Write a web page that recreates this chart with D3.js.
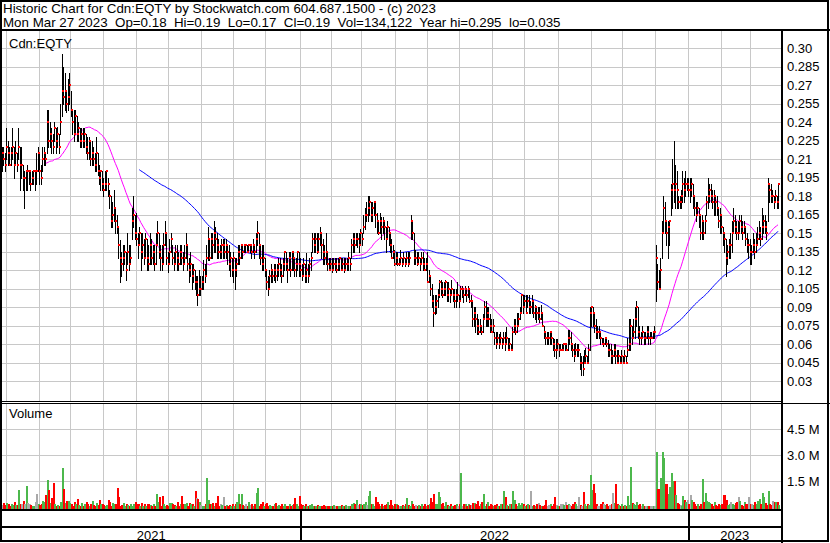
<!DOCTYPE html>
<html><head><meta charset="utf-8">
<script src="https://cdn.jsdelivr.net/npm/d3@7"></script>
<style>
body{margin:0;background:#fff}
svg{display:block}
text{font-family:"Liberation Sans",Arial,sans-serif;font-size:13px;fill:#000}
</style></head>
<body><svg id="chart" width="830" height="543"></svg>
<script>
// ---- data (prices in cents, volumes in thousands of shares), one bar per weekday from 2021-03-29
const closeCents = [
21.5,21,20.5,22,21.5,20.5,21.5,22,20.5,21.5,
20.5,22,20.5,20.5,19.5,19.5,20,20,20,19,
19.5,20,20,20,21.5,20,19.5,21,21.5,21,
24,22.5,23,22.5,22,23.5,22.5,23,22,24,
26.5,26,26.5,25.5,26,27,25,24,23,24.5,
23,23.5,22.5,23,22.5,23,22,21.5,22.5,21,
21.5,21,20.5,21.5,20,19.5,20,19,18.5,19,
20,19,18,16,16.5,17,16,15.5,14,13,
12.5,13,13.5,12,13.5,12.5,13,16,16.5,15,
14.5,14,15,13.5,14,13,14.5,13,12.5,14,
13,13.5,12.5,14,15,13.5,13,12.5,14,15,
13,12.5,13.5,14.5,13,12.5,13.5,13,12.5,13.5,
13,12.5,13,14,12.5,12,12.5,11.5,12,11,
11,10,10.5,10.5,11,12,11.5,13,14.5,13,
14.5,14,15,14.5,14,13.5,13.5,14,14,13.5,
14,13.5,12.5,13,12,13,12,12.5,13.5,13,
14,13.5,14,14,13.5,14,14,13.5,14,13.5,
14.5,15,14,13,12.5,13,12,11,10.5,11.5,
12,11.5,12,11.5,12,12.5,12,11.5,12.5,13.5,
12.5,12,13,12,13.5,13,12,12.5,13.5,12.5,
12,11.5,12.5,11.5,12,11.5,12.5,13,14.5,14,
14.5,13.5,14.5,15,14,13.5,13,13.5,12.5,12,
12.5,12,12.5,12.5,12,12.5,13,12,12.5,12,
12.5,12.5,13,12.5,14,14.5,14,14.5,14.5,14,
15,14.5,15.5,16.5,16.5,17,17.5,16.5,17,17.5,
16.5,16,15,16,15.5,16,15.5,14.5,15.5,15,
14,13,13.5,12.5,13,12.5,12.5,13,12.5,13,
12.5,13,12.5,13,16,15,13,13,12.5,13,
12.5,13,12.5,12,12.5,11,11.5,10.5,9.5,8.5,
9,9.5,10,11,10.5,10,10.5,11,10,10.5,
10,10.5,10,9.5,10,10,9.5,10.5,10.5,10,
10.5,10,10.5,9.5,9.5,8,8.5,8,7.5,7,
7.5,7,8,9,8,8.5,8,7.5,7,7.5,
6.5,6,6.5,6,6.5,6,6.5,6,6.5,5.5,
6,5.5,7,7.5,7,7.5,8,8.5,10,9,
9.5,8.5,9.5,9,9,9.5,8.5,9,8.5,8.5,
8,8.5,7.5,7,6.5,6.5,6.5,7,6.5,6,
5.5,5.5,6,5.5,5.5,5.5,6,6,5.5,6.5,
6.5,6,5.5,5,5.5,5.5,5.5,4.5,4.5,4,
4.5,5,4.5,5.5,8.5,9,8.5,7.5,7,7,
7,6.5,6,6,6.5,6,5.5,5.5,5,5,
5.5,5,4.5,5,4.5,5,4.5,5,4.5,5.5,
6,7.5,6.5,7,8,9,7,6.5,6.5,7,
6.5,6.5,7,6.5,6.5,6.5,7,7,13,11,
10.5,12,15,17,16,15,15.5,16,18.5,19,
18.5,19,18.5,17.5,17.5,18,19,18.5,19,19,
18.5,18.5,19,18,17,16.5,17,16.5,15,16,
15,16,17.5,18,18.5,18,17.5,18,17.5,17,
16,16.5,15.5,15,14.5,13,13.5,14,14,15,
16,15.5,15,15,16,15.5,15,15.5,14.5,14,
14,13.5,13.5,14,13.5,14,14.5,15,14.5,15.5,
16,15.5,15,19,18.5,18,18,17.5,18,17.5,19
];
const highCents = [
22,22,21.5,23.5,22.5,22,22,23.5,22,22.5,
21.5,23.5,22,22,20.5,20,20,20.5,20,20,
20,20,20,21.5,22,21.5,20.5,22,22,21.5,
25,25,24,23.5,23,24,23.5,23.6,23,25.5,
29.5,28.5,28,26.5,27.5,28,26.5,25,25,25,
24.5,24,23.5,23.5,23.5,23.5,23,22.8,22.8,22.5,
22.5,22,21.5,22.8,21.5,20.5,20,20,19.5,20,
20,19.5,18.5,18,17.5,18.5,17,16.5,15.5,14.4,
13.5,14,14,13.5,15,14,14,17,18,16.5,
16.6,15,15.5,15,15,14.5,15,14.5,14,15,
14.5,14,14,15,16,15,14,14,15,16,
15,13.5,14.5,15,14,13.5,14,14,13.5,14,
14,13.5,14,15,14,13,13.5,12.5,12.5,12,
11.5,11.5,12,11.5,11.5,12.8,12.5,14,15.5,14.5,
15,15,16,15.5,15,14.5,14,14.5,14.5,14.5,
14.5,14,14,13.5,13,13.5,13,13,14,14,
14,14,14,14,14,14,14,14,14.5,14,
15,16,15,14,14,14,13,12,11.5,12,
12.5,12,12.5,12.5,12.5,13,13,12.5,13,13.5,
13.5,13,13.5,13.5,13.5,13.5,13,13,13.5,13.5,
13,12.5,13,12.5,13.4,12.5,13,13.5,15,15,
15,15,15,15.5,15,14.5,14,15,13.5,13,
13,13,13,13,13,13,13,13,13,13,
13,13,13.5,13,14.5,15,15,15,15,15,
15.3,15,16.5,17,17.5,18,18,17.5,17.5,17.6,
17.5,16.6,16,16.6,16.3,16.3,16,15.5,16,15.5,
15,14.5,14,13.6,13.5,13.5,13,13.6,13,13.5,
13,13.5,13.5,13.5,16.5,16,15,13.6,13.5,13.5,
13,13.5,13.5,13,13,13.5,12,11.5,10.9,10,
10,10,10.5,11.2,11.2,11,11,11.2,11,11,
10.5,11.2,10.5,10.5,10.5,11,10,10.7,10.7,10.5,
10.7,10.5,10.7,10.5,10,9.5,9,9,8.4,8,
8,7.5,8.4,9.5,9.5,9,9,8.4,8,8,
7,7,7,6.8,7,6.5,7,7,7.4,6.5,
6.5,6,7.4,8,8,8.5,8.5,9,10,10,
10,10,10,10,9.5,10,9.5,9.2,9,9,
9,9.2,8.5,7.5,7,7,7,7,7,6.5,
6.4,6.4,6.4,6,6,6,6,6,6,7.1,
7.1,7,6.1,6,6.1,6,6,5.3,5,5,
5.5,5.7,5,6,9,9,9,8.5,8,7.5,
7.5,7,6.5,6.5,6.5,6.5,6.3,6,6,5.5,
6,6,5.5,5.5,5,5.5,5,5.5,5,6.5,
8,8,7.5,8,9,9.5,9,7.5,7,7.5,
7,7,7.5,7.5,7,7,7,7.5,14,12.5,
12,13,16,18,17.5,16,16,16,19,21,
22.5,20.5,20,18,18,18.5,20,19.5,20,19.5,
19.5,19.5,19.5,19,18,17.5,17.5,17,16.5,16.5,
16,16.5,18,19.5,19,19,18.5,18.5,18,18,
17,17,16.5,15.5,15,14.5,14,14.5,15,16,
17,16.5,16,16,16.5,16.5,16,16,15.5,15,
14.5,14.5,14,15,14.5,15,15.5,16,15.5,17,
16.5,16.5,16,19.5,19,19,18.5,18,18.5,18,19
];
const lowCents = [
20,20.5,20,21,20.5,20.5,20.5,21,19.5,20.5,
20,21,18.5,19.5,18.5,17,18.5,18.5,19,18.5,
19,19,18.5,19,20,19,19,20,20.5,20.5,
21.5,22,22,21.5,21.5,22.5,21.5,22,21.5,23,
24.5,25.5,25,24.8,25,25.5,24.5,23,22.5,23,
22.5,22.5,22,22,22,22,21.5,21,21,20.5,
20.5,20.5,20,20,19.7,19,18.5,18.5,18,18.5,
18.5,18,17,15.5,15.5,16,15,15,13,11,
11.5,12,12.5,11.2,12.5,12,12.5,14.5,15.5,14.5,
14,13,14,12,13,12.5,13,12,12,12.5,
12.5,12.5,12,12.5,14,13,12,12,12.5,14,
12.5,11.8,12.5,13.5,12.5,12,12.5,12,12,12.5,
12.5,12,12.5,13,12,11,11.5,10.5,11,10.5,
10,9.2,10,10,10.5,10.5,11,11.5,12.8,12.8,
13,13,13.5,13.5,13,13,13,13,13,13,
13,12.5,12,11.5,11.5,11,10.5,11.5,12.5,12.5,
13,13,13.5,13.5,13.5,13.5,13.5,13,13.5,13,
13.5,14,13,12.5,12,12,11.5,10.5,10,10.5,
11,11,11.2,11,11.2,11.5,11.5,11,11.5,12,
12,11,12,11.5,12,12,11.5,11.5,12,11.5,
11.5,11.2,11.5,11,11,11,11.5,12,13.5,13.5,
13.5,13.4,13.5,14,13,12.5,12.5,12.5,12,12,
12,11.8,12,12,11.8,12,12,12,12,11.8,
12,12,12,12,13,13.5,13.5,14,13.9,13.5,
14,14,15,15.3,16,16,16.5,16,16,16.5,
15.5,15,14.9,15,14.5,15,14.5,13.5,14.5,14,
13.5,13,13,12.4,12.5,12.4,12.4,12.5,12.3,12.5,
12.3,12.5,12.3,12.5,14.5,14.5,12.5,12.5,12.4,12.5,
12,12.5,12,12,12,11,11,10,9,7.5,
8.4,8.5,9,9.8,10,9.8,10,10,9.5,9.5,
9.4,10,9.5,9,9,9.5,9,9.5,9.8,9.4,
10,9.5,9.8,9.4,9,7.5,7.5,7,6.8,6.8,
7,6.8,7,8,7.5,7.5,7.5,7,7,7,
6,5.7,6,5.7,6,5.7,6,5.5,6,5.5,
5.5,5.5,5.5,7,6.8,7,7.5,8,8.5,8.5,
9,8.5,9,8.5,8.5,8.5,8.2,8,7.8,8,
7.8,8,7.5,6.5,6,6,6,6,6,5.5,
5,4.9,5.5,5,5.5,5.5,5.5,5.5,5.5,5.5,
6,5.5,5,4.6,5,5,5,4,3.5,3.5,
4.5,4.5,4.5,4.5,5.5,7.5,7.5,7,6.5,6.5,
6.5,6,6,5.8,6,5.8,5,5,4.5,4.5,
5,4.5,4.5,4.5,4.5,4.5,4.5,4.5,4.5,5,
5.5,5.5,6,6.5,6.5,7.5,6.5,6,6,6.5,
6,6,6.5,6,6,6.5,6.5,6.5,9.5,10.5,
10.5,10.5,13,15,15,14,13,14,16.5,17,
17.5,17,17,17,17,17,17.5,17.5,18,18.5,
18,17.5,18,17,16.5,16,16.5,15.5,14.5,14.5,
14.5,15,16.5,17,17.5,17.5,17,16.5,16.5,16.5,
15.5,15,15,14,13.5,11.5,12.5,13,13,13.5,
15,15,14.5,14.5,15,15,14.5,15,14,13.5,
13,12.5,12.5,13.5,13,13.5,14,14.5,14,14.5,
15,15,14.5,16,17.5,17.5,17.5,17,17.5,17,17
];
const volumeK = [
120,250,90,220,150,60,180,110,260,90,
140,1000,200,160,350,180,1200,250,150,100,
80,60,300,750,200,100,150,350,300,700,
1550,1000,250,500,1400,150,80,120,60,300,
2250,1050,250,350,350,250,150,80,300,200,
450,120,80,250,60,200,300,150,80,200,
350,120,60,250,100,400,150,200,100,60,
120,400,300,60,250,150,200,1100,600,80,
90,250,60,200,100,60,150,60,150,300,
200,150,60,250,60,200,60,150,200,100,
60,200,80,750,300,600,80,650,150,60,
90,60,250,250,200,100,60,300,80,150,
650,200,150,250,60,250,150,200,60,900,
500,450,300,100,80,60,150,1700,400,200,
150,250,60,250,650,60,150,100,600,80,
100,60,120,80,200,60,150,300,750,200,
750,100,60,200,60,300,100,200,60,150,
800,1100,60,200,300,60,150,250,60,100,
80,60,150,250,60,100,80,200,60,150,
60,80,200,60,100,200,500,150,80,650,
200,100,60,150,80,60,100,150,60,80,
60,100,50,80,60,120,50,80,60,80,
50,80,100,60,50,80,60,120,80,60,
100,60,80,50,150,250,200,400,100,200,
150,120,200,300,100,650,900,200,150,80,
550,300,150,80,200,60,100,150,300,100,
400,100,60,150,200,100,80,60,120,60,
150,500,100,60,350,200,60,120,60,100,
80,150,60,200,60,100,150,500,300,750,
200,200,850,600,150,250,60,300,100,60,
150,60,80,100,150,60,200,1950,60,150,
150,80,200,100,100,250,250,150,350,60,
150,300,750,80,200,300,60,200,100,60,
100,150,60,80,200,200,950,600,100,60,
150,200,950,400,150,60,250,100,250,200,
60,120,200,100,900,60,100,80,150,250,
100,60,60,120,400,80,100,200,60,150,
550,100,60,60,150,200,100,300,100,200,
100,60,150,300,150,80,600,100,60,850,
150,60,200,100,1850,1000,1300,800,200,60,
80,150,300,150,100,200,60,100,150,800,
250,1300,200,100,60,150,60,120,80,650,
100,2300,250,200,100,300,100,150,60,150,
80,60,60,50,80,50,60,60,3200,1050,
1050,1700,3150,2800,1350,1350,750,1150,1950,1500,
1500,700,250,200,100,60,650,400,300,400,
200,700,400,300,150,60,200,60,150,1600,
300,800,350,300,250,150,60,300,100,80,
200,100,150,700,700,400,100,200,300,150,
100,250,300,550,350,120,60,300,150,200,
550,200,150,100,300,150,350,450,200,800,
600,250,100,900,150,100,350,300,300,300,134
];
const firstDay = "2021-03-29";
const priceTicks = [0.30,0.285,0.27,0.255,0.24,0.225,0.21,0.195,0.18,0.165,0.15,0.135,0.12,0.105,0.09,0.075,0.06,0.045,0.03];
const priceTickLabels = ["0.30","0.285","0.27","0.255","0.24","0.225","0.21","0.195","0.18","0.165","0.15","0.135","0.12","0.105","0.09","0.075","0.06","0.045","0.03"];
const volumeTicks = [1.5, 3.0, 4.5];
const volumeTickLabels = ["1.5 M","3.0 M","4.5 M"];
const yearLabels = ["2021","2022","2023"];
const maPeriods = [30, 93];
const maColors = ["#FF00FF", "#0000FF"];
const headerLines = [
  "Historic Chart for Cdn:EQTY by Stockwatch.com 604.687.1500 - (c) 2023",
  "Mon Mar 27 2023  Op=0.18  Hi=0.19  Lo=0.17  Cl=0.19  Vol=134,122  Year hi=0.295  lo=0.035"
];

// ---- layout
const svg = d3.select("#chart");
const n = closeCents.length;
const L = 2, R = 781, PT = 31, PB = 401, VT = 403, VB = 509, AX = 526, BOT = 541;

// trading days (weekdays)
const days = [];
{ const d = new Date(firstDay + "T12:00:00");
  while (days.length < n) { const w = d.getDay(); if (w !== 0 && w !== 6) days.push(new Date(d)); d.setDate(d.getDate() + 1); } }
const monthStarts = [], yearStarts = [];
for (let i = 1; i < n; i++) {
  if (days[i].getMonth() !== days[i-1].getMonth()) { monthStarts.push(i); if (days[i].getMonth() === 0) yearStarts.push(i); }
}

const x = d3.scaleLinear().domain([0, n - 1]).range([2, 778]);
const y = d3.scaleLinear().domain([0.03, 0.30]).range([381, 48]);
const yv = d3.scaleLinear().domain([0, 4.5]).range([507, 429]);
const gx = i => Math.round(x(i) - 0.75) + 0.5;

svg.append("rect").attr("width", 830).attr("height", 543).attr("fill", "#fff");

// grid
const grid = svg.append("g").attr("stroke", "#C8C8C8").attr("stroke-width", 1).attr("shape-rendering", "crispEdges");
grid.selectAll(".hp").data(priceTicks).join("line")
  .attr("x1", L).attr("x2", R).attr("y1", d => Math.round(y(d)) + 0.5).attr("y2", d => Math.round(y(d)) + 0.5);
grid.selectAll(".hv").data(volumeTicks).join("line").attr("class","hv")
  .attr("x1", L).attr("x2", R).attr("y1", d => Math.round(yv(d)) + 0.5).attr("y2", d => Math.round(yv(d)) + 0.5);
grid.selectAll(".vp").data(monthStarts).join("line").attr("class","vp")
  .attr("x1", gx).attr("x2", gx).attr("y1", PT).attr("y2", PB);
grid.selectAll(".vv").data(monthStarts).join("line").attr("class","vv")
  .attr("x1", gx).attr("x2", gx).attr("y1", VT).attr("y2", VB);

// clip
svg.append("clipPath").attr("id", "pclip").append("rect").attr("x", L).attr("y", PT + 1).attr("width", R - L - 1).attr("height", PB - PT - 1);

const idx = d3.range(n);
// moving averages
const closes = closeCents.map(c => c / 100);
maPeriods.forEach((p, k) => {
  const ma = closes.map((c, i) => i < p - 1 ? null : d3.mean(closes.slice(i - p + 1, i + 1)));
  svg.append("path").attr("clip-path", "url(#pclip)")
    .attr("fill", "none").attr("stroke", maColors[k]).attr("stroke-width", 1)
    .attr("d", d3.line().defined(i => ma[i] != null).x(i => x(i)).y(i => y(ma[i]))(idx));
});

// price bars
const pg = svg.append("g").attr("clip-path", "url(#pclip)").attr("shape-rendering", "crispEdges");
pg.selectAll("line").data(idx).join("line")
  .attr("x1", i => Math.round(x(i)) + 0.5).attr("x2", i => Math.round(x(i)) + 0.5)
  .attr("y1", i => Math.round(y(highCents[i] / 100))).attr("y2", i => Math.round(y(lowCents[i] / 100)) + 1)
  .attr("stroke", "#000").attr("stroke-width", 1);
pg.selectAll("rect").data(idx).join("rect")
  .attr("x", i => Math.round(x(i))).attr("y", i => Math.round(y(closes[i])) - 1)
  .attr("width", 2).attr("height", 2).attr("fill", "#FF0000");

// volume bars
const vcol = i => i === 0 ? "#A9A9A9" : closes[i] > closes[i-1] ? "#4CB84C" : closes[i] < closes[i-1] ? "#FF0000" : "#A9A9A9";
svg.append("g").attr("shape-rendering", "crispEdges").selectAll("rect").data(idx).join("rect")
  .attr("x", i => Math.round(x(i))).attr("width", 2)
  .attr("y", i => Math.min(VB - 1, Math.round(yv(volumeK[i] / 1000))))
  .attr("height", i => VB - Math.min(VB - 1, Math.round(yv(volumeK[i] / 1000))))
  .attr("fill", vcol);

// axes labels (right)
const pa = svg.append("g").attr("transform", `translate(${R + 1},0)`)
  .call(d3.axisRight(y).tickValues(priceTicks).tickSize(0).tickPadding(5)
    .tickFormat((d, i) => priceTickLabels[i]));
pa.select(".domain").remove();
pa.selectAll("text").attr("font-size", 13).attr("font-family", '"Liberation Sans",Arial,sans-serif').attr("fill", "#000");
const va = svg.append("g").attr("transform", `translate(${R + 1},0)`)
  .call(d3.axisRight(yv).tickValues(volumeTicks).tickSize(0).tickPadding(5)
    .tickFormat((d, i) => volumeTickLabels[i]));
va.select(".domain").remove();
va.selectAll("text").attr("font-size", 13).attr("font-family", '"Liberation Sans",Arial,sans-serif').attr("fill", "#000");

// frame lines
const fr = svg.append("g").attr("stroke", "#000").attr("shape-rendering", "crispEdges");
fr.append("rect").attr("x", 1).attr("y", 1).attr("width", 827).attr("height", 540).attr("fill", "none").attr("stroke-width", 2);
fr.append("line").attr("x1", 0).attr("x2", 830).attr("y1", 30).attr("y2", 30).attr("stroke-width", 2);
fr.append("line").attr("x1", R + 0.5).attr("x2", R + 0.5).attr("y1", 30).attr("y2", 543).attr("stroke-width", 2);
fr.append("line").attr("x1", 0).attr("x2", R).attr("y1", PB + 0.5).attr("y2", PB + 0.5).attr("stroke-width", 1);
fr.append("line").attr("x1", 0).attr("x2", 830).attr("y1", VT + 0.5).attr("y2", VT + 0.5).attr("stroke-width", 1);
fr.append("line").attr("x1", 0).attr("x2", R).attr("y1", VB + 1).attr("y2", VB + 1).attr("stroke-width", 2);
fr.append("line").attr("x1", 0).attr("x2", R).attr("y1", AX + 1).attr("y2", AX + 1).attr("stroke-width", 2);
fr.selectAll(".yd").data(yearStarts).join("line").attr("class", "yd")
  .attr("x1", i => gx(i)).attr("x2", i => gx(i)).attr("y1", VB).attr("y2", BOT + 1).attr("stroke-width", 2);

// year labels
const bounds = [L, ...yearStarts.map(gx), R];
svg.selectAll(".yl").data(yearLabels).join("text").attr("class", "yl")
  .attr("x", (d, i) => (bounds[i] + bounds[i + 1]) / 2).attr("y", 540)
  .attr("text-anchor", "middle").text(d => d);

// header & panel titles
svg.selectAll(".hd").data(headerLines).join("text").attr("class", "hd")
  .attr("x", 3).attr("y", (d, i) => 13 + i * 14).style("white-space", "pre").style("font-size", "13.35px").text(d => d);
svg.append("text").attr("x", 9).attr("y", 48).text("Cdn:EQTY");
svg.append("text").attr("x", 9).attr("y", 418).text("Volume");
</script>
</body></html>
